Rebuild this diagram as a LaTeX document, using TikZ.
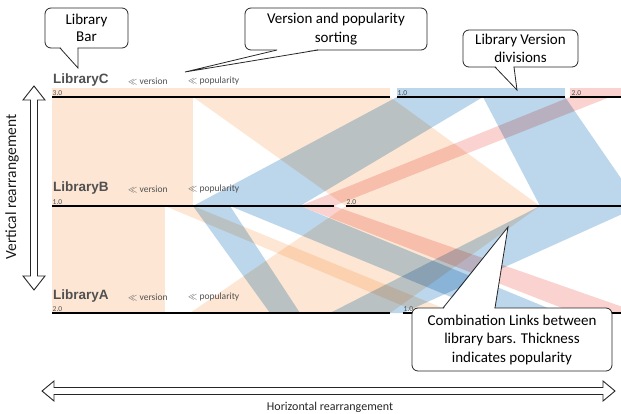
\documentclass[tikz,border=0pt]{standalone}
\usepackage{fontspec}
\setmainfont{Carlito}
\newfontfamily\labfont{Liberation Sans}
\usetikzlibrary{calc}
\definecolor{peach}{RGB}{253,231,212}
\definecolor{lblue}{RGB}{188,214,235}
\definecolor{lpink}{RGB}{250,210,208}
\definecolor{labgray}{RGB}{80,80,80}
\newcommand\mylnk[7]{\fill[link=#1] (#3,#2) -- (#4,#2) -- (#7,#5) -- (#6,#5) -- cycle;}
\begin{document}
\begin{tikzpicture}[x=1pt,y=-1pt,
  link/.style={fill=#1, draw=none},
  bar/.style={line width=2.8pt, black},
  libname/.style={anchor=west, font=\labfont\bfseries\fontsize{13.5}{13.5}\selectfont, text=labgray, inner sep=0},
  sortlab/.style={anchor=west, font=\fontsize{9.5}{9.5}\selectfont, text=labgray, inner sep=0},
  verlab/.style={anchor=south west, font=\fontsize{7.5}{7.5}\selectfont, text=labgray, inner sep=0.5pt},
  callbox/.style={draw=black!85, line width=0.8pt, fill=white, rounded corners=6pt, align=center,
    font=\fontsize{15}{18.5}\selectfont, inner sep=0},
  tailfill/.style={fill=white, draw=none},
  tailline/.style={draw=black!85, line width=0.8pt, line join=miter},
  hollow/.style={draw=black!85, line width=0.9pt, fill=white},
]
\useasboundingbox (0,0) rectangle (621,414);
\begin{scope}
\clip (0,0) rectangle (621,414);
\begin{scope}[blend mode=multiply]
% version headers above LibraryC
\fill[peach] (52,88) rectangle (390,97);
\fill[lblue] (397,88) rectangle (565,97);
\fill[lpink] (570,88) rectangle (640,97);
% links C -> B
\mylnk{peach}{97}{52}{193}{206}{52}{193}
\mylnk{peach}{97}{193}{390}{206}{346}{540}
\mylnk{lblue}{97}{397}{483}{206}{193}{300}
\mylnk{lpink}{97}{570}{610}{206}{300}{334}
\mylnk{lblue}{97}{483}{565}{206}{540}{640}
% links B -> A
\mylnk{peach}{206}{52}{165}{313}{52}{165}
\mylnk{peach}{206}{165}{193}{313}{420}{455}
\mylnk{lblue}{206}{193}{230}{313}{270}{300}
\mylnk{lblue}{206}{230}{300}{313}{490}{560}
\mylnk{lpink}{206}{300}{334}{313}{575}{640}
\mylnk{peach}{206}{346}{540}{313}{190}{390}
\mylnk{lblue}{206}{540}{640}{313}{330}{403}
\end{scope}
% bars
\draw[bar] (52,97) -- (390,97);
\draw[bar] (397,97) -- (565,97);
\draw[bar] (570,97) -- (640,97);
\draw[bar] (52,206) -- (334,206);
\draw[bar] (346,206) -- (640,206);
\draw[bar] (52,313) -- (390,313);
\draw[bar] (403,313) -- (640,313);
\end{scope}
% library labels
\node[libname] (lc) at (53,80) {LibraryC};
\node[sortlab] (lcv) at (128,81) {$\ll$ version};
\node[sortlab] (lcp) at (188,81) {$\ll$ popularity};
\node[libname] (lb) at (53,188) {LibraryB};
\node[sortlab] (lbv) at (128,189) {$\ll$ version};
\node[sortlab] (lbp) at (188,189) {$\ll$ popularity};
\node[libname] (la) at (53,296) {LibraryA};
\node[sortlab] (lav) at (128,297) {$\ll$ version};
\node[sortlab] (lap) at (188,297) {$\ll$ popularity};
% version labels
\node[verlab] (c3) at (52,96) {3.0};
\node[verlab] (c1) at (397,96) {1.0};
\node[verlab] (c2) at (571,96) {2.0};
\node[verlab] (b1) at (52,205) {1.0};
\node[verlab] (b2) at (346,205) {2.0};
\node[verlab] (a2) at (52,312) {2.0};
\node[verlab] (a1) at (403,312) {1.0};
% callout 1
\node[callbox, font=\fontsize{15}{17}\selectfont, minimum width=83pt, minimum height=40pt] (cb1) at (86.5,28) {Library\\Bar};
\coordinate (t1l) at (60,48); \coordinate (t1r) at (78,48); \coordinate (t1) at (78,68);
\fill[tailfill] ($(t1l)+(0.6,-0.8)$) -- ($(t1r)+(-0.4,-0.8)$) -- (t1) -- cycle;
\draw[tailline] (t1l) -- (t1) -- (t1r);
% callout 2
\node[callbox, minimum width=182pt, minimum height=42pt] (cb2) at (336,29) {Version and popularity\\sorting};
\coordinate (t2l) at (277,50); \coordinate (t2r) at (318,50); \coordinate (t2) at (185,72);
\fill[tailfill] ($(t2l)+(0.6,-0.8)$) -- ($(t2r)+(-0.6,-0.8)$) -- (t2) -- cycle;
\draw[tailline] (t2l) -- (t2) -- (t2r);
% callout 3
\node[callbox, minimum width=115pt, minimum height=37pt] (cb3) at (520.5,48.5) {Library Version\\divisions};
\coordinate (t3l) at (495,67); \coordinate (t3r) at (514,67); \coordinate (t3) at (517,90);
\fill[tailfill] ($(t3l)+(0.6,-0.8)$) -- ($(t3r)+(-0.6,-0.8)$) -- (t3) -- cycle;
\draw[tailline] (t3l) -- (t3) -- (t3r);
% callout 4
\node[callbox, minimum width=200pt, minimum height=63pt] (cb4) at (512,339.5) {Combination Links between\\library bars. Thickness\\indicates popularity};
\coordinate (t4l) at (443,308); \coordinate (t4r) at (495,308); \coordinate (t4) at (508,227);
\fill[tailfill] ($(t4l)+(0.8,0.8)$) -- ($(t4r)+(-0.6,0.8)$) -- (t4) -- cycle;
\draw[tailline] (t4l) -- (t4) -- (t4r);
% vertical double arrow
\draw[hollow] (34,86) -- (45,100) -- (37.5,100) -- (37.5,276) -- (45,276) -- (34,290)
  -- (23,276) -- (30.5,276) -- (30.5,100) -- (23,100) -- cycle;
\node[rotate=90, font=\fontsize{15.5}{15.5}\selectfont, text=black!90] (vlab) at (12,187) {Vertical rearrangement};
% horizontal double arrow
\draw[hollow] (42,391) -- (54,381) -- (54,387.5) -- (603,387.5) -- (603,381) -- (615,391)
  -- (603,401) -- (603,394.5) -- (54,394.5) -- (54,401) -- cycle;
\node[font=\fontsize{12}{12}\selectfont, text=black!85] (hlab) at (330,407) {Horizontal rearrangement};
\end{tikzpicture}
\end{document}
